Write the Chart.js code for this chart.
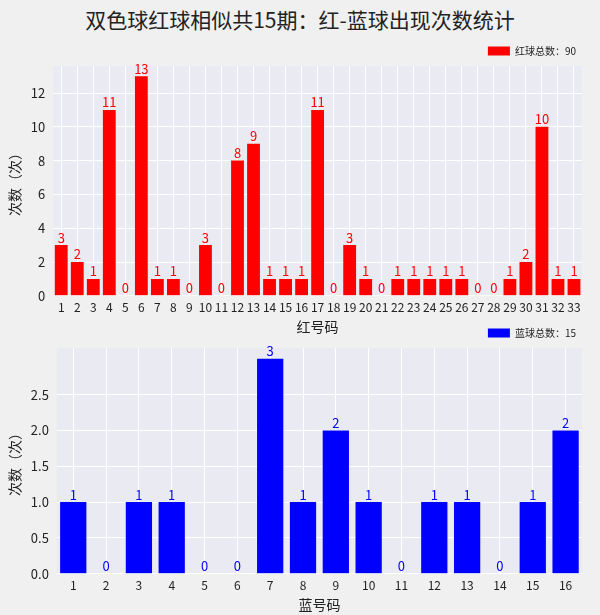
<!DOCTYPE html>
<html><head><meta charset="utf-8">
<script src="https://cdn.jsdelivr.net/npm/chart.js@4"></script>
<style>
body{margin:0;background:#f0f0f0;width:600px;height:615px;overflow:hidden;font-family:"Noto Sans CJK SC",sans-serif}
#title{position:absolute;top:4px;left:0;width:600px;text-align:center;font-size:21px;color:#222}
.box{position:absolute;left:0;width:600px}
</style></head><body>
<div id="title">双色球红球相似共15期：红-蓝球出现次数统计</div>
<div class="box" style="top:40px;height:295px"><canvas id="redChart"></canvas></div>
<div class="box" style="top:322px;height:293px"><canvas id="blueChart"></canvas></div>
<script>
const redLabels = Array.from({length: 33}, (_, i) => String(i + 1));
const redCounts = [3,2,1,11,0,13,1,1,0,3,0,8,9,1,1,1,11,0,3,1,0,1,1,1,1,1,0,0,1,2,10,1,1];
const blueLabels = Array.from({length: 16}, (_, i) => String(i + 1));
const blueCounts = [1,0,1,1,0,0,3,1,2,1,0,1,1,0,1,2];

const font = "'Noto Sans CJK SC', sans-serif";

// plot background + value labels
const decor = {
  id: 'decor',
  beforeDraw(chart) {
    const {ctx, chartArea: a} = chart;
    ctx.save();
    ctx.fillStyle = '#eaeaf2';
    ctx.fillRect(a.left, a.top, a.right - a.left, a.bottom - a.top);
    ctx.restore();
  },
  afterDatasetsDraw(chart) {
    const {ctx} = chart;
    const ds = chart.data.datasets[0];
    ctx.save();
    ctx.fillStyle = ds.backgroundColor;
    ctx.font = '13px ' + font;
    ctx.textAlign = 'center';
    ctx.textBaseline = 'bottom';
    chart.getDatasetMeta(0).data.forEach((bar, i) => {
      ctx.fillText(ds.data[i], bar.x, bar.y - 1);
    });
    ctx.restore();
  }
};

function makeChart(id, labels, data, color, legend, yMax, step, xTitle, pad) {
  new Chart(document.getElementById(id), {
    type: 'bar',
    data: { labels, datasets: [{ label: legend, data, backgroundColor: color, categoryPercentage: 1, barPercentage: 0.8 }] },
    options: {
      responsive: true, maintainAspectRatio: false, animation: false,
      layout: { padding: pad },
      plugins: {
        legend: { align: 'end', labels: { color: '#222', font: { size: 10, family: font }, boxWidth: 22, boxHeight: 9, padding: 6 } },
        tooltip: { enabled: false }
      },
      scales: {
        x: {
          grid: { color: '#ffffff', lineWidth: 1, drawTicks: false, offset: false },
          border: { display: false },
          ticks: { color: '#222', font: { size: 12, family: font }, padding: 4, autoSkip: false, maxRotation: 0 },
          title: { display: true, text: xTitle, color: '#222', font: { size: 14, family: font }, padding: 0 }
        },
        y: {
          min: 0, max: yMax,
          afterBuildTicks: s => { s.ticks = s.ticks.filter(t => Math.abs(t.value / step - Math.round(t.value / step)) < 1e-6); },
          grid: { color: '#ffffff', lineWidth: 1, drawTicks: false },
          border: { display: false },
          ticks: { stepSize: step, color: '#222', font: { size: 13, family: font }, padding: 8,
                   callback: v => step < 1 ? v.toFixed(1) : v },
          title: { display: true, text: '次数（次）', color: '#222', font: { size: 14, family: font }, padding: 0 }
        }
      }
    },
    plugins: [decor]
  });
}

makeChart('redChart', redLabels, redCounts, '#ff0000', '红球总数：90', 13.6, 2, '红号码', {left: 6, right: 18, top: 0, bottom: 0});
makeChart('blueChart', blueLabels, blueCounts, '#0000ff', '蓝球总数：15', 3.15, 0.5, '蓝号码', {left: 6, right: 18, top: 0, bottom: 2});
</script>
</body></html>
